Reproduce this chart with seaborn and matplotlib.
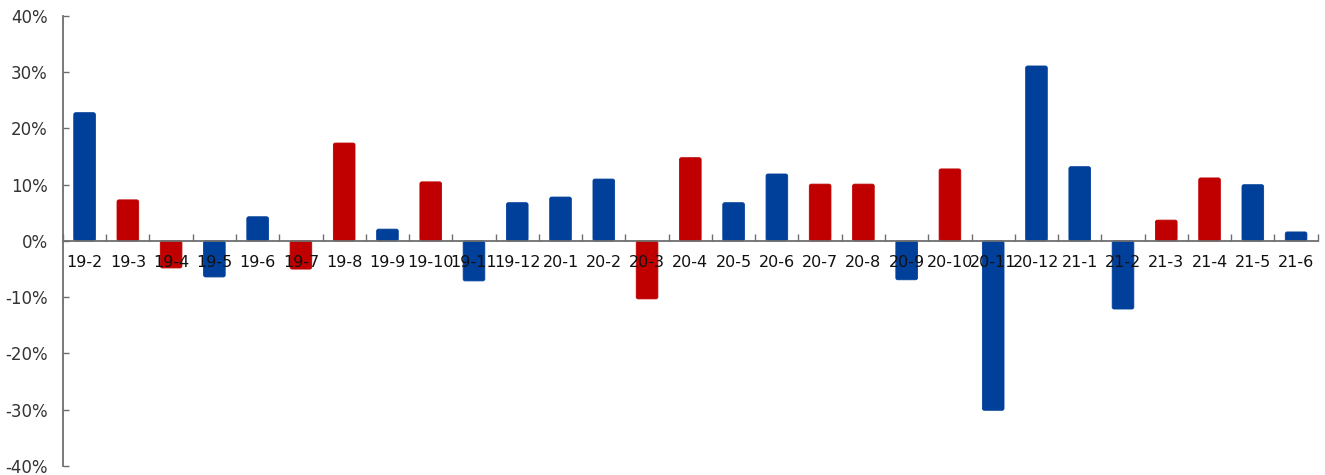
import numpy as np
import pandas as pd
import matplotlib
matplotlib.use("Agg")
import matplotlib.pyplot as plt
import seaborn as sns
from matplotlib.patches import FancyBboxPatch
from matplotlib.ticker import FixedLocator, FuncFormatter

# Monthly change, percent
months = ["19-2", "19-3", "19-4", "19-5", "19-6", "19-7", "19-8", "19-9", "19-10",
          "19-11", "19-12", "20-1", "20-2", "20-3", "20-4", "20-5", "20-6", "20-7",
          "20-8", "20-9", "20-10", "20-11", "20-12", "21-1", "21-2", "21-3", "21-4",
          "21-5", "21-6"]
values = [22.8, 7.3, -4.8, -6.4, 4.3, -5.0, 17.4, 2.1, 10.5,
          -7.1, 6.8, 7.8, 11.0, -10.3, 14.8, 6.8, 11.9, 10.1,
          10.1, -6.9, 12.8, -30.1, 31.1, 13.2, -12.1, 3.7, 11.2,
          10.0, 1.6]
groups = ["A", "B", "B", "A", "A", "B", "B", "A", "B",
          "A", "A", "A", "A", "B", "B", "A", "A", "B",
          "B", "A", "B", "A", "A", "A", "A", "B", "B",
          "A", "A"]
y_ticks = [-40, -30, -20, -10, 0, 10, 20, 30, 40]

palette = {"A": "#00409A", "B": "#C00000"}

df = pd.DataFrame({"month": months, "value": values, "group": groups})

sns.set_theme(style="white")
plt.rcParams["font.family"] = ["DejaVu Sans"]

fig = plt.figure(figsize=(13.25, 4.75), dpi=100)
ax = fig.add_axes([0.0475, 0.019, 0.947, 0.9475])

sns.barplot(data=df, x="month", y="value", hue="group", order=months,
            palette=palette, dodge=False, width=0.5, legend=False, ax=ax,
            saturation=1, linewidth=0)

ax.set_xlim(-0.5, len(months) - 0.5)
ax.set_ylim(-40, 40)

# Give the bars slightly rounded corners
x_px = ax.get_window_extent().width / (len(months))
y_px = ax.get_window_extent().height / 80.0
for p in list(ax.patches):
    x0, y0 = p.get_x(), p.get_y()
    w, h = p.get_width(), p.get_height()
    if h < 0:
        y0, h = y0 + h, -h
    fc = p.get_facecolor()
    rb = FancyBboxPatch((x0, y0), w, h,
                        boxstyle="round,pad=0,rounding_size=%.4f" % (2.0 / x_px),
                        mutation_aspect=x_px / y_px,
                        facecolor=fc, edgecolor=fc, linewidth=0.6, zorder=1)
    ax.add_patch(rb)
    p.set_visible(False)

ax.set_xlabel("")
ax.set_ylabel("")
ax.set_axisbelow(False)

spine_color = "#6E6E6E"
for s in ["top", "right"]:
    ax.spines[s].set_visible(False)
ax.spines["bottom"].set_position(("data", 0))
ax.spines["bottom"].set_color(spine_color)
ax.spines["left"].set_color(spine_color)
ax.spines["bottom"].set_linewidth(1.3)
ax.spines["left"].set_linewidth(1.3)
ax.spines["bottom"].set_zorder(3)

ax.yaxis.set_major_locator(FixedLocator(y_ticks))
ax.yaxis.set_major_formatter(FuncFormatter(lambda v, _: f"{v:.0f}%"))
ax.tick_params(axis="y", direction="in", length=4, width=1, color=spine_color,
               labelsize=12, pad=11, left=True, labelcolor="#333333")

ax.set_xticks(range(len(months)))
ax.set_xticklabels(months)
ax.set_xticks(np.arange(-0.5, len(months), 1.0), minor=True)
ax.tick_params(axis="x", which="major", length=0, labelsize=11.5, pad=10,
               labelcolor="#111111", bottom=True)
ax.tick_params(axis="x", which="minor", direction="in", length=5, width=1,
               color=spine_color, bottom=True)

ax.grid(False)
fig.savefig("out.png", dpi=100)
